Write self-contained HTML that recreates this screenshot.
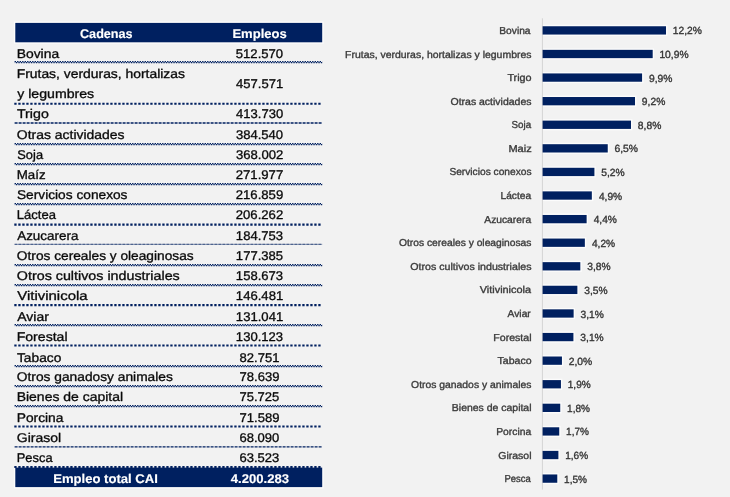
<!DOCTYPE html>
<html lang="es">
<head>
<meta charset="utf-8">
<title>Empleo por cadenas agroindustriales</title>
<style>
html,body{margin:0;padding:0;background:#f2f2f2;}
body{width:730px;height:497px;overflow:hidden;}
svg{display:block;}
text{font-family:"Liberation Sans",sans-serif;white-space:pre;text-rendering:geometricPrecision;stroke-linejoin:round;}
.b{font-weight:bold;}
</style>
</head>
<body>
<svg width="730" height="497" viewBox="0 0 730 497">
<defs>
<filter id="soft" x="0" y="0" width="730" height="497" filterUnits="userSpaceOnUse" color-interpolation-filters="sRGB"><feGaussianBlur stdDeviation="0.35"/></filter>
</defs>
<rect x="0" y="0" width="730" height="497" fill="#f2f2f2"/>
<g filter="url(#soft)">
<rect x="0" y="0" width="730" height="497" fill="#f2f2f2"/>
<rect x="13.9" y="21.5" width="309.7" height="22.2" fill="#fcfcfc"/>
<rect x="13.9" y="467.6" width="309.7" height="20.9" fill="#fcfcfc"/>
<rect x="15.3" y="22.9" width="306.9" height="19.4" fill="#002060"/>
<rect x="15.3" y="467.6" width="306.9" height="19.5" fill="#002060"/>
<line x1="542.4" y1="18.3" x2="542.4" y2="489.6" stroke="#d4d4d4" stroke-width="1"/>
<g fill="#fcfcfc">
<rect x="543.1" y="24.85" width="124.31" height="11.10"/>
<rect x="543.1" y="48.44" width="110.99" height="11.10"/>
<rect x="543.1" y="72.03" width="100.38" height="11.10"/>
<rect x="543.1" y="95.62" width="93.31" height="11.10"/>
<rect x="543.1" y="119.21" width="89.30" height="11.10"/>
<rect x="543.1" y="142.80" width="66.05" height="11.10"/>
<rect x="543.1" y="166.39" width="52.71" height="11.10"/>
<rect x="543.1" y="189.98" width="50.14" height="11.10"/>
<rect x="543.1" y="213.57" width="44.93" height="11.10"/>
<rect x="543.1" y="237.16" width="43.15" height="11.10"/>
<rect x="543.1" y="260.75" width="38.62" height="11.10"/>
<rect x="543.1" y="284.34" width="35.67" height="11.10"/>
<rect x="543.1" y="307.93" width="31.93" height="11.10"/>
<rect x="543.1" y="331.52" width="31.71" height="11.10"/>
<rect x="543.1" y="355.11" width="20.24" height="11.10"/>
<rect x="543.1" y="378.70" width="19.24" height="11.10"/>
<rect x="543.1" y="402.29" width="18.54" height="11.10"/>
<rect x="543.1" y="425.88" width="17.53" height="11.10"/>
<rect x="543.1" y="449.47" width="16.69" height="11.10"/>
<rect x="543.1" y="473.06" width="15.58" height="11.10"/>
</g>
<g fill="#002060">
<rect x="542.6" y="26.25" width="123.41" height="8.3"/>
<rect x="542.6" y="49.84" width="110.09" height="8.3"/>
<rect x="542.6" y="73.43" width="99.48" height="8.3"/>
<rect x="542.6" y="97.02" width="92.41" height="8.3"/>
<rect x="542.6" y="120.61" width="88.40" height="8.3"/>
<rect x="542.6" y="144.20" width="65.15" height="8.3"/>
<rect x="542.6" y="167.79" width="51.81" height="8.3"/>
<rect x="542.6" y="191.38" width="49.24" height="8.3"/>
<rect x="542.6" y="214.97" width="44.03" height="8.3"/>
<rect x="542.6" y="238.56" width="42.25" height="8.3"/>
<rect x="542.6" y="262.15" width="37.72" height="8.3"/>
<rect x="542.6" y="285.74" width="34.77" height="8.3"/>
<rect x="542.6" y="309.33" width="31.03" height="8.3"/>
<rect x="542.6" y="332.92" width="30.81" height="8.3"/>
<rect x="542.6" y="356.51" width="19.34" height="8.3"/>
<rect x="542.6" y="380.10" width="18.34" height="8.3"/>
<rect x="542.6" y="403.69" width="17.64" height="8.3"/>
<rect x="542.6" y="427.28" width="16.63" height="8.3"/>
<rect x="542.6" y="450.87" width="15.79" height="8.3"/>
<rect x="542.6" y="474.46" width="14.68" height="8.3"/>
</g>
<text class="b" transform="translate(80.00 37.70) scale(0.9947 1)" font-size="12.7" fill="#fff" stroke="#fff" stroke-width="0.15">Cadenas</text>
<text class="b" transform="translate(232.38 37.70) scale(1.0277 1)" font-size="12.7" fill="#fff" stroke="#fff" stroke-width="0.15">Empleos</text>
<text class="b" transform="translate(53.18 482.90) scale(1.0312 1)" font-size="12.7" fill="#fff" stroke="#fff" stroke-width="0.15">Empleo total CAI</text>
<text class="b" transform="translate(230.70 482.90) scale(1.0351 1)" font-size="12.7" fill="#fff" stroke="#fff" stroke-width="0.15">4.200.283</text>
<text transform="translate(16.71 58.00) scale(1.0933 1)" font-size="12.7" fill="#0a0a0a" stroke="#0a0a0a" stroke-width="0.32">Bovina</text>
<text transform="translate(235.78 58.00) scale(1.0324 1)" font-size="12.7" fill="#0a0a0a" stroke="#0a0a0a" stroke-width="0.32">512.570</text>
<text transform="translate(16.71 78.00) scale(1.0943 1)" font-size="12.7" fill="#0a0a0a" stroke="#0a0a0a" stroke-width="0.32">Frutas, verduras, hortalizas</text>
<text transform="translate(17.20 98.00) scale(1.1131 1)" font-size="12.7" fill="#0a0a0a" stroke="#0a0a0a" stroke-width="0.32">y legumbres</text>
<text transform="translate(236.09 88.00) scale(1.0278 1)" font-size="12.7" fill="#0a0a0a" stroke="#0a0a0a" stroke-width="0.32">457.571</text>
<text transform="translate(16.98 118.00) scale(1.1187 1)" font-size="12.7" fill="#0a0a0a" stroke="#0a0a0a" stroke-width="0.32">Trigo</text>
<text transform="translate(236.09 118.00) scale(1.0255 1)" font-size="12.7" fill="#0a0a0a" stroke="#0a0a0a" stroke-width="0.32">413.730</text>
<text transform="translate(16.84 139.00) scale(1.0993 1)" font-size="12.7" fill="#0a0a0a" stroke="#0a0a0a" stroke-width="0.32">Otras actividades</text>
<text transform="translate(235.89 139.00) scale(1.0301 1)" font-size="12.7" fill="#0a0a0a" stroke="#0a0a0a" stroke-width="0.32">384.540</text>
<text transform="translate(17.29 159.00) scale(1.0138 1)" font-size="12.7" fill="#0a0a0a" stroke="#0a0a0a" stroke-width="0.32">Soja</text>
<text transform="translate(235.89 159.00) scale(1.0324 1)" font-size="12.7" fill="#0a0a0a" stroke="#0a0a0a" stroke-width="0.32">368.002</text>
<text transform="translate(16.75 179.00) scale(1.0512 1)" font-size="12.7" fill="#0a0a0a" stroke="#0a0a0a" stroke-width="0.32">Maíz</text>
<text transform="translate(235.68 179.00) scale(1.0370 1)" font-size="12.7" fill="#0a0a0a" stroke="#0a0a0a" stroke-width="0.32">271.977</text>
<text transform="translate(16.96 199.00) scale(1.0809 1)" font-size="12.7" fill="#0a0a0a" stroke="#0a0a0a" stroke-width="0.32">Servicios conexos</text>
<text transform="translate(235.68 199.00) scale(1.0370 1)" font-size="12.7" fill="#0a0a0a" stroke="#0a0a0a" stroke-width="0.32">216.859</text>
<text transform="translate(16.77 219.00) scale(1.0278 1)" font-size="12.7" fill="#0a0a0a" stroke="#0a0a0a" stroke-width="0.32">Láctea</text>
<text transform="translate(235.68 219.00) scale(1.0370 1)" font-size="12.7" fill="#0a0a0a" stroke="#0a0a0a" stroke-width="0.32">206.262</text>
<text transform="translate(17.20 240.00) scale(1.0584 1)" font-size="12.7" fill="#0a0a0a" stroke="#0a0a0a" stroke-width="0.32">Azucarera</text>
<text transform="translate(235.87 240.00) scale(1.0304 1)" font-size="12.7" fill="#0a0a0a" stroke="#0a0a0a" stroke-width="0.32">184.753</text>
<text transform="translate(16.85 260.00) scale(1.0804 1)" font-size="12.7" fill="#0a0a0a" stroke="#0a0a0a" stroke-width="0.32">Otros cereales y oleaginosas</text>
<text transform="translate(235.87 260.00) scale(1.0304 1)" font-size="12.7" fill="#0a0a0a" stroke="#0a0a0a" stroke-width="0.32">177.385</text>
<text transform="translate(16.82 280.00) scale(1.1271 1)" font-size="12.7" fill="#0a0a0a" stroke="#0a0a0a" stroke-width="0.32">Otros cultivos industriales</text>
<text transform="translate(235.87 280.00) scale(1.0304 1)" font-size="12.7" fill="#0a0a0a" stroke="#0a0a0a" stroke-width="0.32">158.673</text>
<text transform="translate(17.20 300.00) scale(1.1789 1)" font-size="12.7" fill="#0a0a0a" stroke="#0a0a0a" stroke-width="0.32">Vitivinicola</text>
<text transform="translate(235.87 300.00) scale(1.0328 1)" font-size="12.7" fill="#0a0a0a" stroke="#0a0a0a" stroke-width="0.32">146.481</text>
<text transform="translate(17.20 321.00) scale(1.1058 1)" font-size="12.7" fill="#0a0a0a" stroke="#0a0a0a" stroke-width="0.32">Aviar</text>
<text transform="translate(235.87 321.00) scale(1.0328 1)" font-size="12.7" fill="#0a0a0a" stroke="#0a0a0a" stroke-width="0.32">131.041</text>
<text transform="translate(16.69 341.00) scale(1.1100 1)" font-size="12.7" fill="#0a0a0a" stroke="#0a0a0a" stroke-width="0.32">Forestal</text>
<text transform="translate(235.87 341.00) scale(1.0304 1)" font-size="12.7" fill="#0a0a0a" stroke="#0a0a0a" stroke-width="0.32">130.123</text>
<text transform="translate(16.98 362.00) scale(1.0847 1)" font-size="12.7" fill="#0a0a0a" stroke="#0a0a0a" stroke-width="0.32">Tabaco</text>
<text transform="translate(239.59 362.00) scale(1.0270 1)" font-size="12.7" fill="#0a0a0a" stroke="#0a0a0a" stroke-width="0.32">82.751</text>
<text transform="translate(16.85 381.00) scale(1.0842 1)" font-size="12.7" fill="#0a0a0a" stroke="#0a0a0a" stroke-width="0.32">Otros ganadosy animales</text>
<text transform="translate(239.48 381.00) scale(1.0297 1)" font-size="12.7" fill="#0a0a0a" stroke="#0a0a0a" stroke-width="0.32">78.639</text>
<text transform="translate(16.70 401.00) scale(1.1001 1)" font-size="12.7" fill="#0a0a0a" stroke="#0a0a0a" stroke-width="0.32">Bienes de capital</text>
<text transform="translate(239.48 401.00) scale(1.0270 1)" font-size="12.7" fill="#0a0a0a" stroke="#0a0a0a" stroke-width="0.32">75.725</text>
<text transform="translate(16.71 422.00) scale(1.0856 1)" font-size="12.7" fill="#0a0a0a" stroke="#0a0a0a" stroke-width="0.32">Porcina</text>
<text transform="translate(239.48 422.00) scale(1.0297 1)" font-size="12.7" fill="#0a0a0a" stroke="#0a0a0a" stroke-width="0.32">71.589</text>
<text transform="translate(16.84 442.00) scale(1.1029 1)" font-size="12.7" fill="#0a0a0a" stroke="#0a0a0a" stroke-width="0.32">Girasol</text>
<text transform="translate(239.48 442.00) scale(1.0270 1)" font-size="12.7" fill="#0a0a0a" stroke="#0a0a0a" stroke-width="0.32">68.090</text>
<text transform="translate(16.79 462.00) scale(1.0136 1)" font-size="12.7" fill="#0a0a0a" stroke="#0a0a0a" stroke-width="0.32">Pesca</text>
<text transform="translate(239.48 462.00) scale(1.0270 1)" font-size="12.7" fill="#0a0a0a" stroke="#0a0a0a" stroke-width="0.32">63.523</text>
<text transform="translate(499.29 33.95) scale(1.0111 1)" font-size="10.1" fill="#3c3c3c" stroke="#3c3c3c" stroke-width="0.36">Bovina</text>
<text transform="translate(672.72 34.45) scale(0.9880 1)" font-size="10.4" fill="#363636" stroke="#363636" stroke-width="0.36">12,2%</text>
<text transform="translate(345.07 57.54) scale(1.0350 1)" font-size="10.1" fill="#3c3c3c" stroke="#3c3c3c" stroke-width="0.36">Frutas, verduras, hortalizas y legumbres</text>
<text transform="translate(659.40 58.04) scale(0.9880 1)" font-size="10.4" fill="#363636" stroke="#363636" stroke-width="0.36">10,9%</text>
<text transform="translate(507.39 81.13) scale(1.0718 1)" font-size="10.1" fill="#3c3c3c" stroke="#3c3c3c" stroke-width="0.36">Trigo</text>
<text transform="translate(648.93 81.63) scale(0.9888 1)" font-size="10.4" fill="#363636" stroke="#363636" stroke-width="0.36">9,9%</text>
<text transform="translate(450.48 104.72) scale(1.0391 1)" font-size="10.1" fill="#3c3c3c" stroke="#3c3c3c" stroke-width="0.36">Otras actividades</text>
<text transform="translate(641.86 105.22) scale(0.9888 1)" font-size="10.4" fill="#363636" stroke="#363636" stroke-width="0.36">9,2%</text>
<text transform="translate(511.51 128.31) scale(0.9700 1)" font-size="10.1" fill="#3c3c3c" stroke="#3c3c3c" stroke-width="0.36">Soja</text>
<text transform="translate(637.86 128.81) scale(0.9888 1)" font-size="10.4" fill="#363636" stroke="#363636" stroke-width="0.36">8,8%</text>
<text transform="translate(508.43 151.90) scale(1.0909 1)" font-size="10.1" fill="#3c3c3c" stroke="#3c3c3c" stroke-width="0.36">Maiz</text>
<text transform="translate(614.51 152.40) scale(0.9931 1)" font-size="10.4" fill="#363636" stroke="#363636" stroke-width="0.36">6,5%</text>
<text transform="translate(449.40 175.49) scale(1.0093 1)" font-size="10.1" fill="#3c3c3c" stroke="#3c3c3c" stroke-width="0.36">Servicios conexos</text>
<text transform="translate(601.26 175.99) scale(0.9888 1)" font-size="10.4" fill="#363636" stroke="#363636" stroke-width="0.36">5,2%</text>
<text transform="translate(500.49 199.08) scale(1.0099 1)" font-size="10.1" fill="#3c3c3c" stroke="#3c3c3c" stroke-width="0.36">Láctea</text>
<text transform="translate(598.90 199.58) scale(0.9802 1)" font-size="10.4" fill="#363636" stroke="#363636" stroke-width="0.36">4,9%</text>
<text transform="translate(484.30 222.67) scale(1.0170 1)" font-size="10.1" fill="#3c3c3c" stroke="#3c3c3c" stroke-width="0.36">Azucarera</text>
<text transform="translate(593.69 223.17) scale(0.9802 1)" font-size="10.4" fill="#363636" stroke="#363636" stroke-width="0.36">4,4%</text>
<text transform="translate(398.99 246.26) scale(1.0178 1)" font-size="10.1" fill="#3c3c3c" stroke="#3c3c3c" stroke-width="0.36">Otros cereales y oleaginosas</text>
<text transform="translate(591.90 246.76) scale(0.9802 1)" font-size="10.4" fill="#363636" stroke="#363636" stroke-width="0.36">4,2%</text>
<text transform="translate(410.28 269.85) scale(1.0541 1)" font-size="10.1" fill="#3c3c3c" stroke="#3c3c3c" stroke-width="0.36">Otros cultivos industriales</text>
<text transform="translate(587.27 270.35) scale(0.9845 1)" font-size="10.4" fill="#363636" stroke="#363636" stroke-width="0.36">3,8%</text>
<text transform="translate(479.70 293.44) scale(1.0816 1)" font-size="10.1" fill="#3c3c3c" stroke="#3c3c3c" stroke-width="0.36">Vitivinicola</text>
<text transform="translate(584.32 293.94) scale(0.9845 1)" font-size="10.4" fill="#363636" stroke="#363636" stroke-width="0.36">3,5%</text>
<text transform="translate(507.60 317.03) scale(1.0148 1)" font-size="10.1" fill="#3c3c3c" stroke="#3c3c3c" stroke-width="0.36">Aviar</text>
<text transform="translate(580.58 317.53) scale(0.9845 1)" font-size="10.4" fill="#363636" stroke="#363636" stroke-width="0.36">3,1%</text>
<text transform="translate(493.26 340.62) scale(1.0502 1)" font-size="10.1" fill="#3c3c3c" stroke="#3c3c3c" stroke-width="0.36">Forestal</text>
<text transform="translate(580.36 341.12) scale(0.9845 1)" font-size="10.4" fill="#363636" stroke="#363636" stroke-width="0.36">3,1%</text>
<text transform="translate(497.59 364.21) scale(1.0453 1)" font-size="10.1" fill="#3c3c3c" stroke="#3c3c3c" stroke-width="0.36">Tabaco</text>
<text transform="translate(568.69 364.71) scale(0.9931 1)" font-size="10.4" fill="#363636" stroke="#363636" stroke-width="0.36">2,0%</text>
<text transform="translate(411.09 387.80) scale(1.0267 1)" font-size="10.1" fill="#3c3c3c" stroke="#3c3c3c" stroke-width="0.36">Otros ganados y animales</text>
<text transform="translate(567.76 388.30) scale(0.9666 1)" font-size="10.4" fill="#363636" stroke="#363636" stroke-width="0.36">1,9%</text>
<text transform="translate(451.87 411.39) scale(1.0360 1)" font-size="10.1" fill="#3c3c3c" stroke="#3c3c3c" stroke-width="0.36">Bienes de capital</text>
<text transform="translate(567.06 411.89) scale(0.9666 1)" font-size="10.4" fill="#363636" stroke="#363636" stroke-width="0.36">1,8%</text>
<text transform="translate(496.23 434.98) scale(1.0215 1)" font-size="10.1" fill="#3c3c3c" stroke="#3c3c3c" stroke-width="0.36">Porcina</text>
<text transform="translate(566.06 435.48) scale(0.9666 1)" font-size="10.4" fill="#363636" stroke="#363636" stroke-width="0.36">1,7%</text>
<text transform="translate(498.28 458.57) scale(1.0406 1)" font-size="10.1" fill="#3c3c3c" stroke="#3c3c3c" stroke-width="0.36">Girasol</text>
<text transform="translate(565.21 459.07) scale(0.9666 1)" font-size="10.4" fill="#363636" stroke="#363636" stroke-width="0.36">1,6%</text>
<text transform="translate(504.55 482.16) scale(0.9359 1)" font-size="10.1" fill="#3c3c3c" stroke="#3c3c3c" stroke-width="0.36">Pesca</text>
<text transform="translate(564.10 482.66) scale(0.9666 1)" font-size="10.4" fill="#363636" stroke="#363636" stroke-width="0.36">1,5%</text>
</g>
<line x1="14.6" y1="61.50" x2="322.2" y2="61.50" stroke="#002060" stroke-width="1.25" stroke-dasharray="1.4 1.1"/>
<line x1="14.6" y1="62.50" x2="322.2" y2="62.50" stroke="#002060" stroke-width="1.25" stroke-dasharray="1.4 1.1" stroke-dashoffset="1.25"/>
<line x1="14.6" y1="104.00" x2="322.2" y2="104.00" stroke="#002060" stroke-width="2.1" stroke-dasharray="2.3 1.7" transform="translate(-0.3 -0.25)"/>
<line x1="14.6" y1="123.00" x2="322.2" y2="123.00" stroke="#002060" stroke-width="1.3" stroke-dasharray="3 1"/>
<line x1="14.6" y1="143.50" x2="322.2" y2="143.50" stroke="#002060" stroke-width="1.25" stroke-dasharray="1.4 1.1"/>
<line x1="14.6" y1="144.50" x2="322.2" y2="144.50" stroke="#002060" stroke-width="1.25" stroke-dasharray="1.4 1.1" stroke-dashoffset="1.25"/>
<line x1="14.6" y1="163.50" x2="322.2" y2="163.50" stroke="#002060" stroke-width="1.25" stroke-dasharray="1.4 1.1"/>
<line x1="14.6" y1="164.50" x2="322.2" y2="164.50" stroke="#002060" stroke-width="1.25" stroke-dasharray="1.4 1.1" stroke-dashoffset="1.25"/>
<line x1="14.6" y1="183.50" x2="322.2" y2="183.50" stroke="#002060" stroke-width="1.25" stroke-dasharray="1.4 1.1"/>
<line x1="14.6" y1="184.50" x2="322.2" y2="184.50" stroke="#002060" stroke-width="1.25" stroke-dasharray="1.4 1.1" stroke-dashoffset="1.25"/>
<line x1="14.6" y1="203.50" x2="322.2" y2="203.50" stroke="#002060" stroke-width="1.25" stroke-dasharray="1.4 1.1"/>
<line x1="14.6" y1="204.50" x2="322.2" y2="204.50" stroke="#002060" stroke-width="1.25" stroke-dasharray="1.4 1.1" stroke-dashoffset="1.25"/>
<line x1="14.6" y1="224.90" x2="322.2" y2="224.90" stroke="#002060" stroke-width="2.1" stroke-dasharray="2.3 1.7" transform="translate(-0.3 -0.25)"/>
<line x1="14.6" y1="244.40" x2="322.2" y2="244.40" stroke="#002060" stroke-width="1.1" stroke-opacity="0.4"/>
<line x1="14.6" y1="244.40" x2="322.2" y2="244.40" stroke="#002060" stroke-width="1.1" stroke-opacity="0.45" stroke-dasharray="2.5 1.5"/>
<line x1="14.6" y1="264.50" x2="322.2" y2="264.50" stroke="#002060" stroke-width="1.25" stroke-dasharray="1.4 1.1"/>
<line x1="14.6" y1="265.50" x2="322.2" y2="265.50" stroke="#002060" stroke-width="1.25" stroke-dasharray="1.4 1.1" stroke-dashoffset="1.25"/>
<line x1="14.6" y1="284.50" x2="322.2" y2="284.50" stroke="#002060" stroke-width="1.25" stroke-dasharray="1.4 1.1"/>
<line x1="14.6" y1="285.50" x2="322.2" y2="285.50" stroke="#002060" stroke-width="1.25" stroke-dasharray="1.4 1.1" stroke-dashoffset="1.25"/>
<line x1="14.6" y1="305.40" x2="322.2" y2="305.40" stroke="#002060" stroke-width="2.1" stroke-dasharray="2.3 1.7" transform="translate(-0.3 -0.25)"/>
<line x1="14.6" y1="324.50" x2="322.2" y2="324.50" stroke="#002060" stroke-width="1.25" stroke-dasharray="1.4 1.1"/>
<line x1="14.6" y1="325.50" x2="322.2" y2="325.50" stroke="#002060" stroke-width="1.25" stroke-dasharray="1.4 1.1" stroke-dashoffset="1.25"/>
<line x1="14.6" y1="345.70" x2="322.2" y2="345.70" stroke="#002060" stroke-width="2.1" stroke-dasharray="2.3 1.7" transform="translate(-0.3 -0.25)"/>
<line x1="14.6" y1="365.50" x2="322.2" y2="365.50" stroke="#002060" stroke-width="1.25" stroke-dasharray="1.4 1.1"/>
<line x1="14.6" y1="366.50" x2="322.2" y2="366.50" stroke="#002060" stroke-width="1.25" stroke-dasharray="1.4 1.1" stroke-dashoffset="1.25"/>
<line x1="14.6" y1="385.50" x2="322.2" y2="385.50" stroke="#002060" stroke-width="1.25" stroke-dasharray="1.4 1.1"/>
<line x1="14.6" y1="386.50" x2="322.2" y2="386.50" stroke="#002060" stroke-width="1.25" stroke-dasharray="1.4 1.1" stroke-dashoffset="1.25"/>
<line x1="14.6" y1="405.50" x2="322.2" y2="405.50" stroke="#002060" stroke-width="1.25" stroke-dasharray="1.4 1.1"/>
<line x1="14.6" y1="406.50" x2="322.2" y2="406.50" stroke="#002060" stroke-width="1.25" stroke-dasharray="1.4 1.1" stroke-dashoffset="1.25"/>
<line x1="14.6" y1="426.80" x2="322.2" y2="426.80" stroke="#002060" stroke-width="2.1" stroke-dasharray="2.3 1.7" transform="translate(-0.3 -0.25)"/>
<line x1="14.6" y1="446.80" x2="322.2" y2="446.80" stroke="#002060" stroke-width="1.3" stroke-dasharray="3 1"/>
<line x1="14.6" y1="467.30" x2="322.2" y2="467.30" stroke="#002060" stroke-width="2.1" stroke-dasharray="2.3 1.7" transform="translate(-0.3 -0.25)"/>
</svg>
</body>
</html>
